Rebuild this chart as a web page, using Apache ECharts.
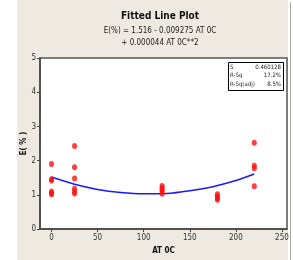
<!DOCTYPE html>
<html>
<head>
<meta charset="utf-8">
<script src="https://cdn.jsdelivr.net/npm/echarts@6/dist/echarts.min.js"></script>
<style>
  html, body { margin: 0; padding: 0; background: #fff; }
  #chart { width: 293px; height: 260px; }
</style>
</head>
<body>
<div id="chart"></div>
<script>
var obsTemp = [0, 0, 0, 0, 0, 0,
               25, 25, 25, 25, 25, 25,
               120, 120, 120, 120, 120,
               180, 180, 180, 180,
               220, 220, 220, 220];
var obsE = [1.9, 1.46, 1.42, 1.1, 1.05, 1.02,
            2.43, 1.81, 1.48, 1.18, 1.1, 1.04,
            1.26, 1.2, 1.15, 1.09, 1.03,
            1.02, 0.96, 0.9, 0.86,
            2.52, 1.85, 1.78, 1.25];
var fitTemp = [0, 25, 50, 75, 100, 125, 150, 175, 200, 220];
var fitE = [1.52, 1.31, 1.16, 1.07, 1.03, 1.04, 1.12, 1.24, 1.42, 1.61];
var xTicks = [0, 50, 100, 150, 200, 250];
var statNames = ['S', 'R-Sq', 'R-Sq(adj)'];
var statValues = ['0.460128', '17.2%', '8.5%'];

var font = '"Liberation Sans Narrow", "DejaVu Sans Condensed", sans-serif';
var chart = echarts.init(document.getElementById('chart'));

var scatterData = obsTemp.map(function (t, i) { return [t, obsE[i]]; });
var fitData = fitTemp.map(function (t, i) { return [t, fitE[i]]; });

// stats box in the top right corner
var statGraphics = [{
    type: 'rect', left: 228, top: 62, z: 10,
    shape: { width: 55, height: 28 },
    style: { fill: '#fff', stroke: '#000', lineWidth: 1 }
}];
statNames.forEach(function (name, i) {
    statGraphics.push({
        type: 'text', left: 230, top: 64 + i * 8.6, z: 11,
        style: { text: name, fontSize: 6, fontFamily: font, fill: '#222' }
    });
    statGraphics.push({
        type: 'text', right: 12, top: 64 + i * 8.6, z: 11,
        style: { text: statValues[i], fontSize: 6, fontFamily: font, fill: '#222' }
    });
});

var option = {
    backgroundColor: '#fff',
    animation: false,
    graphic: [{
        type: 'rect', left: 17, top: 0, z: -10,
        shape: { width: 271, height: 260 },
        style: { fill: '#eeeae1' }
    }, {
        type: 'line', left: 288, top: 0, z: -9,
        shape: { x1: 0, y1: 0, x2: 0, y2: 260 },
        style: { stroke: '#aaa69e', lineWidth: 1 }
    }].concat(statGraphics),
    title: [{
        text: 'Fitted Line Plot',
        left: 155, top: 6, textAlign: 'center',
        textStyle: { fontSize: 10, fontWeight: 'bold', fontFamily: font, color: '#111' }
    }, {
        text: 'E(%) = 1.516 - 0.009275 AT 0C',
        left: 155, top: 22, textAlign: 'center',
        textStyle: { fontSize: 8, fontWeight: 'normal', fontFamily: font, color: '#222' }
    }, {
        text: '+ 0.000044 AT 0C**2',
        left: 155, top: 34, textAlign: 'center',
        textStyle: { fontSize: 8, fontWeight: 'normal', fontFamily: font, color: '#222' }
    }],
    grid: {
        left: 40, top: 58, right: 6, bottom: 23,
        show: true, backgroundColor: '#fff',
        borderColor: '#555', borderWidth: 1.5
    },
    xAxis: {
        type: 'value', min: -12.5, max: 255.5,
        name: 'AT 0C', nameLocation: 'middle', nameGap: 17,
        nameTextStyle: { fontSize: 8, fontWeight: 'bold', fontFamily: font, color: '#111' },
        splitLine: { show: false },
        axisLine: { onZero: false, lineStyle: { color: '#444', width: 1.5 } },
        axisTick: { customValues: xTicks, length: 3, lineStyle: { color: '#444' } },
        axisLabel: { customValues: xTicks, fontSize: 8, fontFamily: font, color: '#333', margin: 5 }
    },
    yAxis: {
        type: 'value', min: 0, max: 5, interval: 1,
        name: 'E( % )', nameLocation: 'middle', nameGap: 12,
        nameMoveOverlap: false,
        nameTextStyle: { fontSize: 8, fontWeight: 'bold', fontFamily: font, color: '#111' },
        splitLine: { show: false },
        axisLine: { show: true, onZero: false, lineStyle: { color: '#444', width: 1.5 } },
        axisTick: { show: true, length: 3, lineStyle: { color: '#444' } },
        axisLabel: { fontSize: 8, fontFamily: font, color: '#333', margin: 4 }
    },
    series: [{
        type: 'line',
        data: fitData,
        smooth: 0.3,
        showSymbol: false,
        lineStyle: { color: '#1a1aff', width: 1.5 },
        z: 2
    }, {
        type: 'scatter',
        data: scatterData,
        symbol: 'circle',
        symbolSize: [5, 6],
        itemStyle: { color: '#ff1010' },
        z: 3
    }]
};

chart.setOption(option);
</script>
</body>
</html>
